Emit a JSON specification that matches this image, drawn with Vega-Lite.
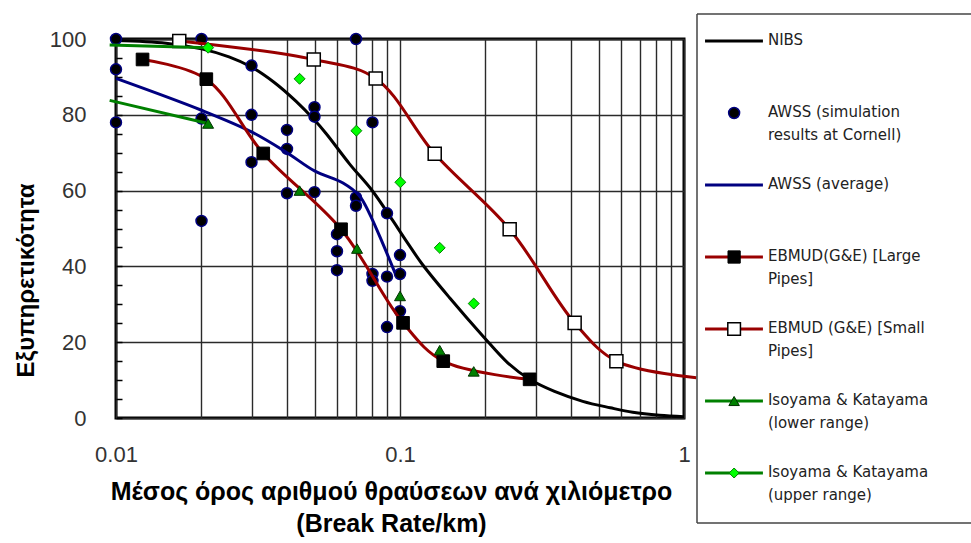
{
  "$schema": "https://vega.github.io/schema/vega-lite/v6.json",
  "autosize": {"type": "pad"},
  "padding": {"left": 12, "top": 13, "right": 0, "bottom": 0},
  "background": "white",
  "bounds": "flush",
  "spacing": 13,
  "config": {
    "font": "Liberation Sans",
    "view": {"stroke": null}
  },
  "datasets": {
    "main": [
      {"s": "NIBS", "k": "line", "x": 0.01, "y": 99.6},
      {"s": "NIBS", "k": "line", "x": 0.015, "y": 98.9},
      {"s": "NIBS", "k": "line", "x": 0.02, "y": 97.4},
      {"s": "NIBS", "k": "line", "x": 0.025, "y": 95.3},
      {"s": "NIBS", "k": "line", "x": 0.03, "y": 92.6},
      {"s": "NIBS", "k": "line", "x": 0.036, "y": 88.6},
      {"s": "NIBS", "k": "line", "x": 0.043, "y": 83.6},
      {"s": "NIBS", "k": "line", "x": 0.05, "y": 78.6},
      {"s": "NIBS", "k": "line", "x": 0.055, "y": 75},
      {"s": "NIBS", "k": "line", "x": 0.0665, "y": 67},
      {"s": "NIBS", "k": "line", "x": 0.08, "y": 59.9},
      {"s": "NIBS", "k": "line", "x": 0.0945, "y": 52},
      {"s": "NIBS", "k": "line", "x": 0.105, "y": 46.8},
      {"s": "NIBS", "k": "line", "x": 0.12, "y": 40.5},
      {"s": "NIBS", "k": "line", "x": 0.15, "y": 31.6},
      {"s": "NIBS", "k": "line", "x": 0.196, "y": 21.6},
      {"s": "NIBS", "k": "line", "x": 0.24, "y": 14.5},
      {"s": "NIBS", "k": "line", "x": 0.286, "y": 10.2},
      {"s": "NIBS", "k": "line", "x": 0.35, "y": 7},
      {"s": "NIBS", "k": "line", "x": 0.44, "y": 4.4},
      {"s": "NIBS", "k": "line", "x": 0.55, "y": 2.7},
      {"s": "NIBS", "k": "line", "x": 0.66, "y": 1.5},
      {"s": "NIBS", "k": "line", "x": 0.82, "y": 0.7},
      {"s": "NIBS", "k": "line", "x": 1, "y": 0.3},

      {"s": "AWSS sim", "k": "point", "x": 0.01, "y": 100},
      {"s": "AWSS sim", "k": "point", "x": 0.02, "y": 100},
      {"s": "AWSS sim", "k": "point", "x": 0.07, "y": 100},
      {"s": "AWSS sim", "k": "point", "x": 0.01, "y": 92},
      {"s": "AWSS sim", "k": "point", "x": 0.03, "y": 93},
      {"s": "AWSS sim", "k": "point", "x": 0.05, "y": 82},
      {"s": "AWSS sim", "k": "point", "x": 0.05, "y": 79.5},
      {"s": "AWSS sim", "k": "point", "x": 0.01, "y": 78},
      {"s": "AWSS sim", "k": "point", "x": 0.02, "y": 79},
      {"s": "AWSS sim", "k": "point", "x": 0.03, "y": 80},
      {"s": "AWSS sim", "k": "point", "x": 0.08, "y": 78},
      {"s": "AWSS sim", "k": "point", "x": 0.04, "y": 76},
      {"s": "AWSS sim", "k": "point", "x": 0.04, "y": 71},
      {"s": "AWSS sim", "k": "point", "x": 0.03, "y": 67.5},
      {"s": "AWSS sim", "k": "point", "x": 0.04, "y": 59.3},
      {"s": "AWSS sim", "k": "point", "x": 0.05, "y": 59.6},
      {"s": "AWSS sim", "k": "point", "x": 0.07, "y": 58.2},
      {"s": "AWSS sim", "k": "point", "x": 0.07, "y": 56},
      {"s": "AWSS sim", "k": "point", "x": 0.09, "y": 54},
      {"s": "AWSS sim", "k": "point", "x": 0.02, "y": 52},
      {"s": "AWSS sim", "k": "point", "x": 0.06, "y": 48.5},
      {"s": "AWSS sim", "k": "point", "x": 0.06, "y": 44},
      {"s": "AWSS sim", "k": "point", "x": 0.06, "y": 39},
      {"s": "AWSS sim", "k": "point", "x": 0.08, "y": 38},
      {"s": "AWSS sim", "k": "point", "x": 0.08, "y": 36.2},
      {"s": "AWSS sim", "k": "point", "x": 0.09, "y": 37.3},
      {"s": "AWSS sim", "k": "point", "x": 0.1, "y": 43},
      {"s": "AWSS sim", "k": "point", "x": 0.1, "y": 38},
      {"s": "AWSS sim", "k": "point", "x": 0.1, "y": 28.2},
      {"s": "AWSS sim", "k": "point", "x": 0.09, "y": 24},

      {"s": "AWSS avg", "k": "line", "x": 0.01, "y": 89.6},
      {"s": "AWSS avg", "k": "line", "x": 0.02, "y": 81.2},
      {"s": "AWSS avg", "k": "line", "x": 0.03, "y": 75.5},
      {"s": "AWSS avg", "k": "line", "x": 0.04, "y": 70},
      {"s": "AWSS avg", "k": "line", "x": 0.05, "y": 65.2},
      {"s": "AWSS avg", "k": "line", "x": 0.063, "y": 62},
      {"s": "AWSS avg", "k": "line", "x": 0.072, "y": 58.6},
      {"s": "AWSS avg", "k": "line", "x": 0.078, "y": 54},
      {"s": "AWSS avg", "k": "line", "x": 0.087, "y": 46},
      {"s": "AWSS avg", "k": "line", "x": 0.096, "y": 38.3},

      {"s": "EBMUD large", "k": "both", "x": 0.0124, "y": 94.6},
      {"s": "EBMUD large", "k": "both", "x": 0.0208, "y": 89.4},
      {"s": "EBMUD large", "k": "both", "x": 0.033, "y": 69.8},
      {"s": "EBMUD large", "k": "both", "x": 0.062, "y": 49.8},
      {"s": "EBMUD large", "k": "both", "x": 0.1025, "y": 25.1},
      {"s": "EBMUD large", "k": "both", "x": 0.142, "y": 15},
      {"s": "EBMUD large", "k": "both", "x": 0.286, "y": 10.2},

      {"s": "EBMUD small", "k": "both", "x": 0.0167, "y": 99.5},
      {"s": "EBMUD small", "k": "both", "x": 0.0497, "y": 94.6},
      {"s": "EBMUD small", "k": "both", "x": 0.0821, "y": 89.6},
      {"s": "EBMUD small", "k": "both", "x": 0.1325, "y": 69.7},
      {"s": "EBMUD small", "k": "both", "x": 0.2433, "y": 49.8},
      {"s": "EBMUD small", "k": "both", "x": 0.412, "y": 25.1},
      {"s": "EBMUD small", "k": "both", "x": 0.578, "y": 15},
      {"s": "EBMUD small", "k": "line", "x": 1.105, "y": 10.6},

      {"s": "Iso lower", "k": "line", "x": 0.0095, "y": 83.8},
      {"s": "Iso lower", "k": "both", "x": 0.0211, "y": 77.7},
      {"s": "Iso lower", "k": "point", "x": 0.0443, "y": 60},
      {"s": "Iso lower", "k": "point", "x": 0.0706, "y": 44.7},
      {"s": "Iso lower", "k": "point", "x": 0.1, "y": 32.2},
      {"s": "Iso lower", "k": "point", "x": 0.138, "y": 17.9},
      {"s": "Iso lower", "k": "point", "x": 0.1818, "y": 12.3},

      {"s": "Iso upper", "k": "line", "x": 0.0095, "y": 98.4},
      {"s": "Iso upper", "k": "both", "x": 0.0211, "y": 97.7},
      {"s": "Iso upper", "k": "point", "x": 0.0443, "y": 89.5},
      {"s": "Iso upper", "k": "point", "x": 0.0702, "y": 75.8},
      {"s": "Iso upper", "k": "point", "x": 0.1003, "y": 62.2},
      {"s": "Iso upper", "k": "point", "x": 0.138, "y": 44.9},
      {"s": "Iso upper", "k": "point", "x": 0.1818, "y": 30.2}
    ],
    "legend": [
      {"i": 0, "s": "NIBS", "label": "NIBS"},
      {"i": 1, "s": "AWSS sim", "label": "AWSS (simulation\nresults at Cornell)"},
      {"i": 2, "s": "AWSS avg", "label": "AWSS (average)"},
      {"i": 3, "s": "EBMUD large", "label": "EBMUD(G&E) [Large\nPipes]"},
      {"i": 4, "s": "EBMUD small", "label": "EBMUD (G&E) [Small\nPipes]"},
      {"i": 5, "s": "Iso lower", "label": "Isoyama & Katayama\n(lower range)"},
      {"i": 6, "s": "Iso upper", "label": "Isoyama & Katayama\n(upper range)"}
    ]
  },
  "hconcat": [
    {
      "width": 568,
      "height": 379,
      "view": {"stroke": "#000000", "strokeWidth": 3},
      "data": {"name": "main"},
      "encoding": {
        "x": {
          "field": "x",
          "type": "quantitative",
          "scale": {"type": "log", "domain": [0.01, 1], "nice": false},
          "axis": {
            "values": [0.01, 0.02, 0.03, 0.04, 0.05, 0.06, 0.07, 0.08, 0.09, 0.1, 0.2, 0.3, 0.4, 0.5, 0.6, 0.7, 0.8, 0.9, 1],
            "labelExpr": "datum.value == 0.01 ? '0.01' : datum.value == 0.1 ? '0.1' : datum.value == 1 ? '1' : ''",
            "grid": true,
            "gridColor": "#2a2a2a",
            "gridWidth": 1.4,
            "gridOpacity": 1,
            "ticks": false,
            "domain": false,
            "labelFontSize": 22,
            "labelColor": "#333333",
            "labelPadding": 26,
            "labelDx": -3,
            "labelFlush": false,
            "labelOverlap": false,
            "labelBound": false,
            "title": ["Μέσος όρος αριθμού θραύσεων ανά χιλιόμετρο", "(Break Rate/km)"],
            "titleFontSize": 25,
            "titleFontWeight": "bold",
            "titleColor": "#000000",
            "titleX": 275,
            "titleY": 81,
            "titleAlign": "center",
            "titleBaseline": "alphabetic",
            "titleLineHeight": 32
          }
        },
        "y": {
          "field": "y",
          "type": "quantitative",
          "scale": {"domain": [0, 100], "nice": false},
          "axis": {
            "values": [0, 5, 10, 15, 20, 25, 30, 35, 40, 45, 50, 55, 60, 65, 70, 75, 80, 85, 90, 95, 100],
            "labelExpr": "datum.value % 20 == 0 ? datum.label : ''",
            "grid": true,
            "gridColor": "#2a2a2a",
            "gridWidth": 1.4,
            "gridOpacity": {"condition": {"test": "datum.value % 20 == 0", "value": 1}, "value": 0},
            "ticks": true,
            "tickSize": -6,
            "tickColor": "#000000",
            "tickWidth": 1.5,
            "domain": false,
            "labelFontSize": 22,
            "labelColor": "#333333",
            "labelPadding": 36,
            "labelBaseline": "middle",
            "labelFlush": false,
            "labelOverlap": false,
            "labelBound": false,
            "title": "Εξυπηρετικότητα",
            "titleFontSize": 24,
            "titleFontWeight": "bold",
            "titleColor": "#000000",
            "titleAngle": -90,
            "titleX": -90,
            "titleY": 241,
            "titleAlign": "center",
            "titleBaseline": "middle"
          }
        }
      },
      "layer": [
        {
          "transform": [{"filter": "datum.s == 'NIBS'"}],
          "mark": {"type": "line", "color": "#000000", "strokeWidth": 3, "interpolate": "catmull-rom"}
        },
        {
          "transform": [{"filter": "datum.s == 'AWSS sim'"}],
          "mark": {"type": "point", "shape": "circle", "filled": true, "size": 120, "fill": "#000000", "stroke": "#000080", "strokeWidth": 1.5, "opacity": 1}
        },
        {
          "transform": [{"filter": "datum.s == 'AWSS avg'"}],
          "mark": {"type": "line", "color": "#000080", "strokeWidth": 3, "interpolate": "catmull-rom"}
        },
        {
          "transform": [{"filter": "datum.s == 'EBMUD large' && datum.k != 'point'"}],
          "mark": {"type": "line", "color": "#990000", "strokeWidth": 3, "interpolate": "catmull-rom"}
        },
        {
          "transform": [{"filter": "datum.s == 'EBMUD large' && datum.k != 'line'"}],
          "mark": {"type": "point", "shape": "square", "filled": true, "size": 160, "fill": "#000000", "stroke": "#000000", "strokeWidth": 1, "opacity": 1}
        },
        {
          "transform": [{"filter": "datum.s == 'EBMUD small' && datum.k != 'point'"}],
          "mark": {"type": "line", "color": "#990000", "strokeWidth": 3, "interpolate": "catmull-rom"}
        },
        {
          "transform": [{"filter": "datum.s == 'EBMUD small' && datum.k != 'line'"}],
          "mark": {"type": "point", "shape": "square", "filled": true, "size": 170, "fill": "#ffffff", "stroke": "#000000", "strokeWidth": 1.5, "opacity": 1}
        },
        {
          "transform": [{"filter": "datum.s == 'Iso lower' && datum.k != 'point'"}],
          "mark": {"type": "line", "color": "#008000", "strokeWidth": 3, "interpolate": "catmull-rom"}
        },
        {
          "transform": [{"filter": "datum.s == 'Iso lower' && datum.k != 'line'"}],
          "mark": {"type": "point", "shape": "triangle-up", "filled": true, "size": 120, "fill": "#008000", "stroke": "#003300", "strokeWidth": 1, "opacity": 1}
        },
        {
          "transform": [{"filter": "datum.s == 'Iso upper' && datum.k != 'point'"}],
          "mark": {"type": "line", "color": "#008000", "strokeWidth": 3, "interpolate": "catmull-rom"}
        },
        {
          "transform": [{"filter": "datum.s == 'Iso upper' && datum.k != 'line'"}],
          "mark": {"type": "point", "shape": "diamond", "filled": true, "size": 120, "fill": "#00ff00", "stroke": "#008000", "strokeWidth": 1, "opacity": 1}
        }
      ]
    },
    {
      "width": 277,
      "height": 379,
      "view": {"stroke": null},
      "data": {"name": "legend"},
      "layer": [
        {
          "data": {"values": [{}]},
          "mark": {"type": "rule", "color": "#444444", "strokeWidth": 1.5},
          "encoding": {
            "x": {"datum": 0, "type": "quantitative", "scale": {"domain": [0, 100], "nice": false, "zero": false}, "axis": null},
            "x2": {"datum": 100},
            "y": {"datum": -0.375, "type": "quantitative", "scale": {"domain": [-0.0278, 5.236], "reverse": true, "nice": false, "zero": false}, "axis": null}
          }
        },
        {
          "data": {"values": [{}]},
          "mark": {"type": "rule", "color": "#444444", "strokeWidth": 1.5},
          "encoding": {
            "x": {"datum": 0, "type": "quantitative", "scale": {"domain": [0, 100], "nice": false, "zero": false}, "axis": null},
            "x2": {"datum": 100},
            "y": {"datum": 6.694, "type": "quantitative", "scale": {"domain": [-0.0278, 5.236], "reverse": true, "nice": false, "zero": false}, "axis": null}
          }
        },
        {
          "data": {"values": [{}]},
          "mark": {"type": "rule", "color": "#444444", "strokeWidth": 1.5},
          "encoding": {
            "x": {"datum": 0, "type": "quantitative", "scale": {"domain": [0, 100], "nice": false, "zero": false}, "axis": null},
            "y": {"datum": -0.375, "type": "quantitative", "scale": {"domain": [-0.0278, 5.236], "reverse": true, "nice": false, "zero": false}, "axis": null},
            "y2": {"datum": 6.694}
          }
        },
        {
          "transform": [{"filter": "datum.s == 'NIBS'"}],
          "mark": {"type": "rule", "color": "#000000", "strokeWidth": 3},
          "encoding": {
            "x": {"datum": 2.9, "type": "quantitative", "scale": {"domain": [0, 100], "nice": false, "zero": false}, "axis": null},
            "x2": {"datum": 23.8},
            "y": {"field": "i", "type": "quantitative", "scale": {"domain": [-0.0278, 5.236], "reverse": true, "nice": false, "zero": false}, "axis": null}
          }
        },
        {
          "transform": [{"filter": "datum.s == 'AWSS avg'"}],
          "mark": {"type": "rule", "color": "#000080", "strokeWidth": 3},
          "encoding": {
            "x": {"datum": 2.9, "type": "quantitative", "scale": {"domain": [0, 100], "nice": false, "zero": false}, "axis": null},
            "x2": {"datum": 23.8},
            "y": {"field": "i", "type": "quantitative", "scale": {"domain": [-0.0278, 5.236], "reverse": true, "nice": false, "zero": false}, "axis": null}
          }
        },
        {
          "transform": [{"filter": "datum.s == 'EBMUD large' || datum.s == 'EBMUD small'"}],
          "mark": {"type": "rule", "color": "#990000", "strokeWidth": 3},
          "encoding": {
            "x": {"datum": 2.9, "type": "quantitative", "scale": {"domain": [0, 100], "nice": false, "zero": false}, "axis": null},
            "x2": {"datum": 23.8},
            "y": {"field": "i", "type": "quantitative", "scale": {"domain": [-0.0278, 5.236], "reverse": true, "nice": false, "zero": false}, "axis": null}
          }
        },
        {
          "transform": [{"filter": "datum.s == 'Iso lower' || datum.s == 'Iso upper'"}],
          "mark": {"type": "rule", "color": "#008000", "strokeWidth": 3},
          "encoding": {
            "x": {"datum": 2.9, "type": "quantitative", "scale": {"domain": [0, 100], "nice": false, "zero": false}, "axis": null},
            "x2": {"datum": 23.8},
            "y": {"field": "i", "type": "quantitative", "scale": {"domain": [-0.0278, 5.236], "reverse": true, "nice": false, "zero": false}, "axis": null}
          }
        },
        {
          "transform": [{"filter": "datum.s == 'AWSS sim'"}],
          "mark": {"type": "point", "shape": "circle", "filled": true, "size": 120, "fill": "#000000", "stroke": "#000080", "strokeWidth": 1.5, "opacity": 1},
          "encoding": {
            "x": {"datum": 13.4, "type": "quantitative", "scale": {"domain": [0, 100], "nice": false, "zero": false}, "axis": null},
            "y": {"field": "i", "type": "quantitative", "scale": {"domain": [-0.0278, 5.236], "reverse": true, "nice": false, "zero": false}, "axis": null}
          }
        },
        {
          "transform": [{"filter": "datum.s == 'EBMUD large'"}],
          "mark": {"type": "point", "shape": "square", "filled": true, "size": 150, "fill": "#000000", "stroke": "#000000", "strokeWidth": 1, "opacity": 1},
          "encoding": {
            "x": {"datum": 13.4, "type": "quantitative", "scale": {"domain": [0, 100], "nice": false, "zero": false}, "axis": null},
            "y": {"field": "i", "type": "quantitative", "scale": {"domain": [-0.0278, 5.236], "reverse": true, "nice": false, "zero": false}, "axis": null}
          }
        },
        {
          "transform": [{"filter": "datum.s == 'EBMUD small'"}],
          "mark": {"type": "point", "shape": "square", "filled": true, "size": 160, "fill": "#ffffff", "stroke": "#000000", "strokeWidth": 1.5, "opacity": 1},
          "encoding": {
            "x": {"datum": 13.4, "type": "quantitative", "scale": {"domain": [0, 100], "nice": false, "zero": false}, "axis": null},
            "y": {"field": "i", "type": "quantitative", "scale": {"domain": [-0.0278, 5.236], "reverse": true, "nice": false, "zero": false}, "axis": null}
          }
        },
        {
          "transform": [{"filter": "datum.s == 'Iso lower'"}],
          "mark": {"type": "point", "shape": "triangle-up", "filled": true, "size": 110, "fill": "#008000", "stroke": "#003300", "strokeWidth": 1, "opacity": 1},
          "encoding": {
            "x": {"datum": 13.4, "type": "quantitative", "scale": {"domain": [0, 100], "nice": false, "zero": false}, "axis": null},
            "y": {"field": "i", "type": "quantitative", "scale": {"domain": [-0.0278, 5.236], "reverse": true, "nice": false, "zero": false}, "axis": null}
          }
        },
        {
          "transform": [{"filter": "datum.s == 'Iso upper'"}],
          "mark": {"type": "point", "shape": "diamond", "filled": true, "size": 100, "fill": "#00ff00", "stroke": "#008000", "strokeWidth": 1, "opacity": 1},
          "encoding": {
            "x": {"datum": 13.4, "type": "quantitative", "scale": {"domain": [0, 100], "nice": false, "zero": false}, "axis": null},
            "y": {"field": "i", "type": "quantitative", "scale": {"domain": [-0.0278, 5.236], "reverse": true, "nice": false, "zero": false}, "axis": null}
          }
        },
        {
          "mark": {"type": "text", "align": "left", "baseline": "alphabetic", "dy": 4, "font": "DejaVu Sans", "fontSize": 15, "lineHeight": 22.7, "lineBreak": "\n", "color": "#222222"},
          "encoding": {
            "x": {"datum": 25.6, "type": "quantitative", "scale": {"domain": [0, 100], "nice": false, "zero": false}, "axis": null},
            "y": {"field": "i", "type": "quantitative", "scale": {"domain": [-0.0278, 5.236], "reverse": true, "nice": false, "zero": false}, "axis": null},
            "text": {"field": "label"}
          }
        }
      ]
    }
  ]
}
